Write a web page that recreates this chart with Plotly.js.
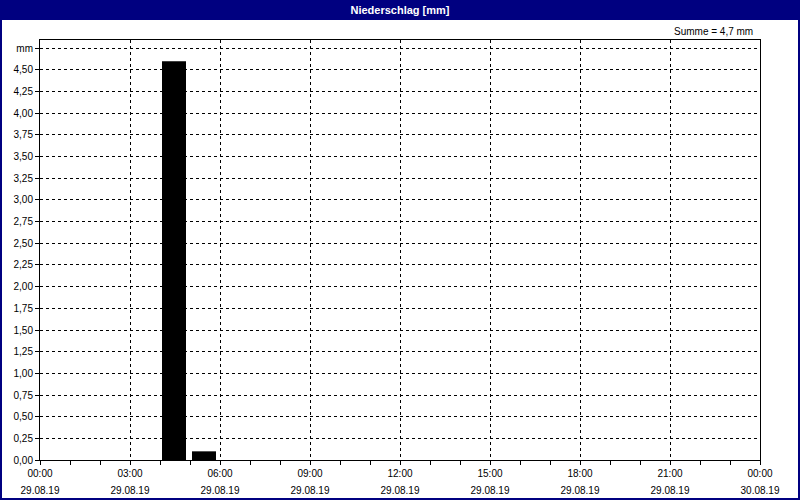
<!DOCTYPE html>
<html>
<head>
<meta charset="utf-8">
<script src="https://cdn.plot.ly/plotly-3.0.1.min.js"></script>
<style>
  html, body { margin: 0; padding: 0; background: #ffffff; }
  #chart { width: 800px; height: 500px; }
</style>
</head>
<body>
<div id="chart"></div>
<script>
// Data
const barTimes = ['2019-08-29 04:28', '2019-08-29 05:28'];
const barValues = [4.6, 0.1];
const yTickVals = [0, 0.25, 0.5, 0.75, 1, 1.25, 1.5, 1.75, 2, 2.25, 2.5, 2.75, 3, 3.25, 3.5, 3.75, 4, 4.25, 4.5, 4.75];
const yTickText = ['0,00', '0,25', '0,50', '0,75', '1,00', '1,25', '1,50', '1,75', '2,00', '2,25', '2,50', '2,75', '3,00', '3,25', '3,50', '3,75', '4,00', '4,25', '4,50', 'mm'];
const xRange = ['2019-08-29 00:00', '2019-08-30 00:00'];
const titleText = 'Niederschlag [mm]';
const sumText = 'Summe = 4,7 mm';

const FONT = 'Liberation Sans, Arial, sans-serif';
const NAVY = '#000080';

const trace = {
  type: 'bar',
  x: barTimes,
  y: barValues,
  width: 48 * 60 * 1000,
  marker: { color: '#000000', line: { width: 0 } },
  hoverinfo: 'x+y'
};
// invisible trace to anchor the date-label axis
const dateTrace = {
  type: 'scatter', mode: 'markers',
  x: xRange, y: [0, 0],
  xaxis: 'x2', yaxis: 'y',
  marker: { opacity: 0 }, hoverinfo: 'skip', showlegend: false
};

const layout = {
  width: 800,
  height: 500,
  margin: { l: 40, r: 40, t: 40, b: 40, pad: 0 },
  paper_bgcolor: '#ffffff',
  plot_bgcolor: '#ffffff',
  showlegend: false,
  font: { family: FONT, size: 10, color: '#000000' },
  title: {
    text: '<b>' + titleText + '</b>',
    font: { family: FONT, size: 11, color: '#ffffff' },
    x: 0.5, xanchor: 'center',
    y: 0.98, yanchor: 'middle', yref: 'container'
  },
  xaxis: {
    type: 'date',
    range: xRange,
    tick0: '2019-08-29 00:00',
    dtick: 3 * 3600 * 1000,
    tickformat: '%H:%M',
    ticks: 'outside', ticklen: 4, tickcolor: '#000000', tickwidth: 1,
    minor: { dtick: 3600 * 1000, ticks: 'outside', ticklen: 4, tickcolor: '#000000', showgrid: false },
    showgrid: true, gridcolor: '#000000', gridwidth: 1, griddash: '3px,3px',
    showline: true, linecolor: '#000000', linewidth: 1, mirror: true,
    zeroline: false,
    ticklabelstandoff: 0,
    tickfont: { family: FONT, size: 10, color: '#000000' },
    fixedrange: true
  },
  xaxis2: {
    type: 'date',
    overlaying: 'x',
    side: 'bottom',
    anchor: 'y',
    range: xRange,
    tick0: '2019-08-29 00:00',
    dtick: 3 * 3600 * 1000,
    tickformat: '%d.%m.%y',
    ticks: '', showgrid: false, showline: false, zeroline: false,
    ticklabelstandoff: 23,
    tickfont: { family: FONT, size: 10, color: '#000000' },
    fixedrange: true
  },
  yaxis: {
    range: [0, 4.846],
    tickmode: 'array',
    tickvals: yTickVals,
    ticktext: yTickText,
    ticks: 'outside', ticklen: 4, tickcolor: '#000000', tickwidth: 1,
    showgrid: true, gridcolor: '#000000', gridwidth: 1, griddash: '3px,3px',
    showline: true, linecolor: '#000000', linewidth: 1, mirror: true,
    zeroline: false,
    tickfont: { family: FONT, size: 10, color: '#000000' },
    fixedrange: true
  },
  shapes: [
    { type: 'rect', xref: 'paper', yref: 'paper', layer: 'below',
      x0: -40 / 720, x1: 1 + 40 / 720, y0: 1 + 20 / 420, y1: 1 + 40 / 420,
      fillcolor: NAVY, line: { width: 0 } },
    { type: 'rect', xref: 'paper', yref: 'paper', layer: 'above',
      x0: -39 / 720, x1: 1 + 39 / 720, y0: -39 / 420, y1: 1 + 39 / 420,
      fillcolor: 'rgba(0,0,0,0)', line: { color: NAVY, width: 2 } }
  ],
  annotations: [
    { text: sumText, xref: 'paper', yref: 'paper', x: 715 / 720, y: 1 + 9 / 420,
      xanchor: 'right', yanchor: 'middle', showarrow: false,
      font: { family: FONT, size: 10, color: '#000000' } }
  ]
};

Plotly.newPlot('chart', [trace, dateTrace], layout, { displayModeBar: false, staticPlot: true });
</script>
</body>
</html>
